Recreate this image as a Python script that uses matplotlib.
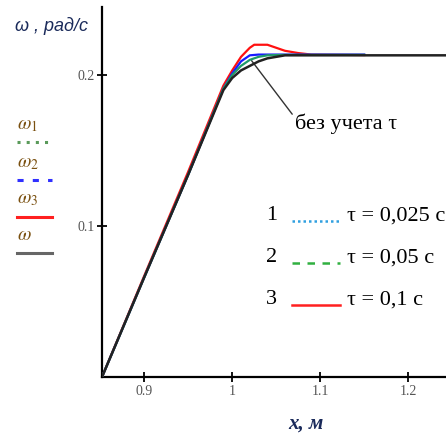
import matplotlib.pyplot as plt
from matplotlib.lines import Line2D

# angular velocity vs. position, for several time constants
x_base = [0.852, 0.90, 0.95, 0.99, 1.00, 1.01, 1.02, 1.03, 1.04, 1.05, 1.06, 1.25]
w_base = [0.0, 0.066, 0.134, 0.190, 0.198, 0.203, 0.206, 0.209, 0.211, 0.212, 0.213, 0.213]

x_t1 = [0.852, 0.90, 0.95, 0.99, 1.00, 1.01, 1.02, 1.03, 1.05, 1.15]
w_t1 = [0.0, 0.066, 0.134, 0.191, 0.201, 0.209, 0.213, 0.2135, 0.2135, 0.2135]

x_t2 = [0.852, 0.90, 0.95, 0.99, 1.00, 1.01, 1.02, 1.03, 1.04, 1.06, 1.15]
w_t2 = [0.0, 0.066, 0.134, 0.191, 0.200, 0.206, 0.210, 0.212, 0.213, 0.2133, 0.2133]

x_t3 = [0.852, 0.90, 0.95, 0.99, 1.00, 1.01, 1.02, 1.025, 1.04, 1.05, 1.06, 1.075, 1.09, 1.15]
w_t3 = [0.0, 0.067, 0.136, 0.193, 0.203, 0.212, 0.218, 0.220, 0.220, 0.218, 0.216, 0.2145, 0.2135, 0.2132]

x_ticks = [0.9, 1.0, 1.1, 1.2]
x_tick_labels = ["0.9", "1", "1.1", "1.2"]
y_ticks = [0.1, 0.2]
y_tick_labels = ["0.1", "0.2"]

W, H = 446, 437
fig = plt.figure(figsize=(W / 100, H / 100), dpi=100)


def px(x, y):
    return x / W, 1 - y / H


ax = fig.add_axes([102 / W, 60 / H, (W - 102) / W, 370 / H])
ax.set_xlim(0.852, 1.243)
ax.set_ylim(0, 0.245)

ax.plot(x_t3, w_t3, color="#ff1010", lw=1.6, zorder=3)
ax.plot(x_t1, w_t1, color="#1a1aff", lw=1.6, zorder=4)
ax.plot(x_t2, w_t2, color="#1f9a6a", lw=1.6, zorder=5)
ax.plot(x_base, w_base, color="#222222", lw=1.8, zorder=6)

for s in ["top", "right"]:
    ax.spines[s].set_visible(False)
for s in ["left", "bottom"]:
    ax.spines[s].set_linewidth(1.6)
ax.set_xticks(x_ticks)
ax.set_xticklabels(x_tick_labels)
ax.set_yticks(y_ticks)
ax.set_yticklabels(y_tick_labels)
ax.tick_params(direction="inout", length=7, width=1.3, labelsize=10,
               labelcolor="#555555", pad=2)
for lbl in ax.get_xticklabels() + ax.get_yticklabels():
    lbl.set_family("Liberation Serif")

# annotation for the curve without time constant
ax.annotate("без учета τ", xy=(1.022, 0.2095), xytext=(295, H - 124),
            textcoords="figure pixels",
            fontsize=16, family="Liberation Serif", va="center", ha="left",
            arrowprops=dict(arrowstyle="-", color="#333333", lw=1.0,
                            shrinkA=0, shrinkB=0, relpos=(0, 0.8)))

# axis titles
fig.text(*px(15, 26), "ω , рад/с", fontsize=13, style="italic",
         family="Liberation Sans", color="#1a2a5a", va="center")
fig.text(*px(288, 424), "x, м", fontsize=15, family="Liberation Serif",
         style="italic", weight="bold", color="#1a2a5a", va="center")

# left legend
left_items = [
    (r"$\omega_1$", 124, 142, "#5a9a5a", (0, (1, 2))),
    (r"$\omega_2$", 162, 180, "#3030ff", (0, (2, 3))),
    (r"$\omega_3$", 198, 217, "#ff2020", "-"),
    (r"$\omega$", 234, 253, "#666666", "-"),
]
for label, ty, ly, col, ls in left_items:
    fig.text(*px(17, ty), label, fontsize=14, color="#7a5010", va="center",
             math_fontfamily="stix")
    fig.add_artist(Line2D([17 / W, 52 / W], [1 - ly / H, 1 - ly / H],
                          color=col, ls=ls, lw=2.2))

# right legend
right_items = [
    ("1", "τ = 0,025 с", 216, "#30a0e0", (0, (1, 1.2))),
    ("2", "τ = 0,05 с", 258, "#30b040", (0, (3, 3))),
    ("3", "τ = 0,1 с", 300, "#ff2020", "-"),
]
for num, txt, y, col, ls in right_items:
    fig.text(*px(266, y), num, fontsize=16, family="Liberation Serif",
             va="center")
    fig.add_artist(Line2D([292 / W, 340 / W], [1 - (y + 5) / H] * 2,
                          color=col, ls=ls, lw=1.8))
    fig.text(*px(347, y), txt, fontsize=16, family="Liberation Serif",
             va="center")

fig.savefig("out.png", dpi=100)
